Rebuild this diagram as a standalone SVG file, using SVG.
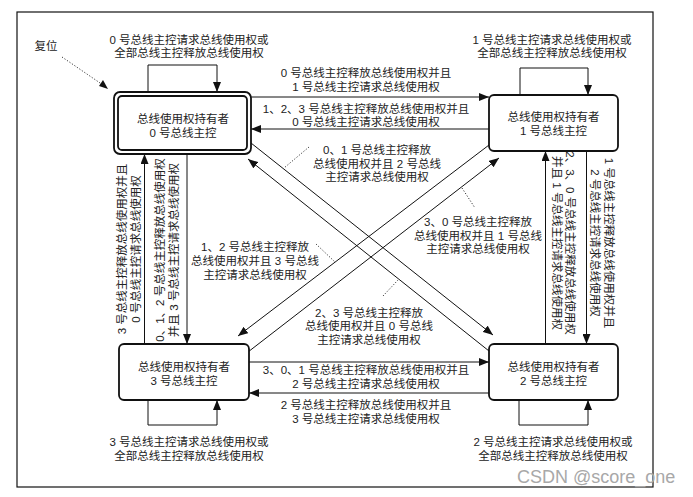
<svg xmlns="http://www.w3.org/2000/svg" width="693" height="497" viewBox="0 0 693 497">
<defs>
<marker id="ah" markerWidth="10" markerHeight="8" refX="10" refY="4" orient="auto" markerUnits="userSpaceOnUse">
<path d="M0,0 L10,4 L0,8 Z" fill="#111"/>
</marker>
<style>
text{font-family:"Liberation Sans","Noto Sans CJK SC",sans-serif;font-size:11.5px;fill:#222;text-anchor:middle}
.box{fill:#fff;stroke:#111;stroke-width:1.8}
.ln{fill:none;stroke:#111;stroke-width:1}
.arr{fill:none;stroke:#111;stroke-width:1;marker-end:url(#ah)}
.dot{fill:none;stroke:#222;stroke-width:0.9;stroke-dasharray:1.2 1.8}
.wm{font-size:18px;fill:#a8a8a8;text-anchor:start}
</style>
</defs>
<rect x="0" y="0" width="693" height="497" fill="#fff"/>
<rect x="17" y="12" width="636" height="475" fill="none" stroke="#111" stroke-width="1.2"/>

<g id="connectors">
<!-- self loops -->
<path class="arr" d="M148,92 V65 H217 V92"/>
<path class="arr" d="M520,95 V68 H588 V95"/>
<path class="arr" d="M148,400 V425 H217 V400"/>
<path class="arr" d="M519,400 V425 H588 V400"/>
<!-- horizontals -->
<path class="arr" d="M251,97 H489"/>
<path class="arr" d="M489,129 H251"/>
<path class="arr" d="M249,362 H489"/>
<path class="arr" d="M489,393 H249"/>
<!-- verticals -->
<path class="arr" d="M144.5,344 V154"/>
<path class="arr" d="M187,154 V344"/>
<path class="arr" d="M586.5,151 V344"/>
<path class="arr" d="M545.5,344 V151"/>
<!-- diagonals -->
<path class="arr" d="M251,143 L493,335"/>
<path class="arr" d="M489,351 L248,159"/>
<path class="arr" d="M489,145 L238,336"/>
<path class="arr" d="M248,352 L499,158"/>
<!-- leaders -->
<path class="dot" d="M62,57 L103,85"/>
<path d="M108,89 L99,86 L103,80 Z" fill="#111"/>
<path class="dot" d="M309,147 L284,168"/>
<path class="dot" d="M462,188 L475,208"/>
<path class="dot" d="M316,244 L335,262"/>
<path class="dot" d="M383,296 L398,280"/>
</g>

<g id="labels">
<text x="46" y="50">复位</text>
<text x="189" y="44">0 号总线主控请求总线使用权或</text>
<text x="189" y="57">全部总线主控释放总线使用权</text>
<text x="552" y="44">1 号总线主控请求总线使用权或</text>
<text x="552" y="57">全部总线主控释放总线使用权</text>
<text x="189" y="446">3 号总线主控请求总线使用权或</text>
<text x="189" y="460">全部总线主控释放总线使用权</text>
<text x="553" y="446">2 号总线主控请求总线使用权或</text>
<text x="553" y="460">全部总线主控释放总线使用权</text>
<text x="366" y="77">0 号总线主控释放总线使用权并且</text>
<text x="366" y="91">1 号总线主控请求总线使用权</text>
<text x="366" y="112.5">1、2、3 号总线主控释放总线使用权并且</text>
<text x="366" y="126">0 号总线主控请求总线使用权</text>
<text x="366" y="374">3、0、1 号总线主控释放总线使用权并且</text>
<text x="366" y="388">2 号总线主控请求总线使用权</text>
<text x="366" y="409">2 号总线主控释放总线使用权并且</text>
<text x="366" y="423">3 号总线主控请求总线使用权</text>
<text x="377" y="154">0、1 号总线主控释放</text>
<text x="377" y="167.5">总线使用权并且 2 号总线</text>
<text x="377" y="181">主控请求总线使用权</text>
<text x="478" y="226">3、0 号总线主控释放</text>
<text x="478" y="240">总线使用权并且 1 号总线</text>
<text x="478" y="253">主控请求总线使用权</text>
<text x="255" y="251">1、2 号总线主控释放</text>
<text x="255" y="265">总线使用权并且 3 号总线</text>
<text x="255" y="279">主控请求总线使用权</text>
<text x="369" y="317">2、3 号总线主控释放</text>
<text x="369" y="330">总线使用权并且 0 号总线</text>
<text x="369" y="344">主控请求总线使用权</text>
<text transform="translate(126,249) rotate(-90)">3 号总线主控释放总线使用权并且</text>
<text transform="translate(140,249) rotate(-90)">0 号总线主控请求总线使用权</text>
<text transform="translate(164,250) rotate(-90)">0、1、2 号总线主控释放总线使用权</text>
<text transform="translate(178,250) rotate(-90)">并且 3 号总线主控请求总线使用权</text>
<text transform="translate(566,243) rotate(90)">2、3、0 号总线主控释放总线使用权</text>
<text transform="translate(553,243) rotate(90)">并且 1 号总线主控请求总线使用权</text>
<text transform="translate(604.5,243) rotate(90)">1 号总线主控释放总线使用权并且</text>
<text transform="translate(591,243) rotate(90)">2 号总线主控请求总线使用权</text>
</g>

<g id="node0">
<rect class="box" x="114" y="92" width="137" height="62" rx="6"/>
<rect class="box" x="118" y="96" width="129" height="54" rx="4"/>
<text x="183" y="122.5">总线使用权持有者</text>
<text x="183" y="136.5">0 号总线主控</text>
</g>
<g id="node1">
<rect class="box" x="489" y="95" width="129" height="56" rx="5"/>
<text x="553.5" y="121">总线使用权持有者</text>
<text x="553.5" y="135">1 号总线主控</text>
</g>
<g id="node3">
<rect class="box" x="119" y="344" width="130" height="56" rx="5"/>
<text x="184" y="371">总线使用权持有者</text>
<text x="184" y="385">3 号总线主控</text>
</g>
<g id="node2">
<rect class="box" x="489" y="344" width="129" height="56" rx="5"/>
<text x="553.5" y="371">总线使用权持有者</text>
<text x="553.5" y="385">2 号总线主控</text>
</g>

<text class="wm" x="517" y="483">CSDN @score_one</text>
</svg>
